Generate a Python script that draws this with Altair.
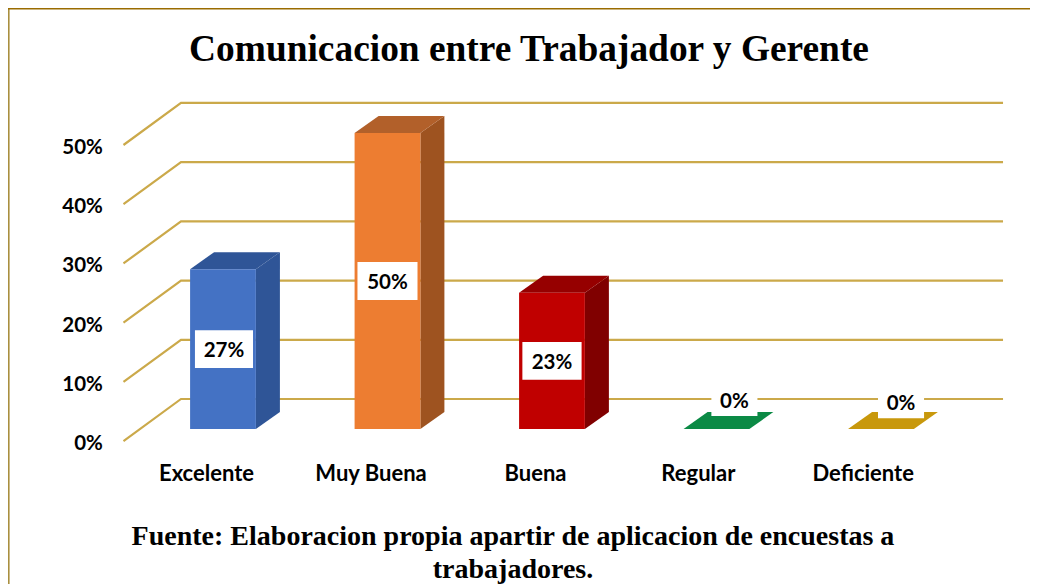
import altair as alt
import pandas as pd

# ---- chart values
categories = ["Excelente", "Muy Buena", "Buena", "Regular", "Deficiente"]
values = [27, 50, 23, 0, 0]
value_labels = ["27%", "50%", "23%", "0%", "0%"]
front_colors = ["#4472C4", "#ED7D31", "#C00000", "#0B8A45", "#C8980C"]
side_colors = ["#2F5597", "#9E5320", "#800000", "#0B8A45", "#C8980C"]
top_colors = ["#2F5597", "#B2602A", "#960000", "#0B8A45", "#C8980C"]
y_ticks = [0, 10, 20, 30, 40, 50]
y_tick_labels = ["0%", "10%", "20%", "30%", "40%", "50%"]
title_text = "Comunicacion entre Trabajador y Gerente"
footer_lines = ["Fuente: Elaboracion propia apartir de aplicacion de encuestas a", "trabajadores."]

# ---- 3D geometry in data units
W, H = 1022, 576
X_DOMAIN = [-1.307, 4.906]
Y_DOMAIN = [-26.18, 71.11]
half = 0.2
depth_x = 0.146
depth_y = 2.87
wall_x0, wall_x1 = -0.2553, 4.742
front_x = -0.605
wall_y = 5.07
front_y = -2.03
label_y = [13.5, 25, 11.5, 4.9, 4.5]
label_dx = [0.006, 0, 0, 0.109, 0.122]
box_w = [0.353, 0.365, 0.36, 0.28, 0.28]
box_h = [6.4, 6.4, 6.4, 5.4, 5.4]
cat_label_x = [-0.1, -0.1, -0.1, -0.11, -0.108]

xs = alt.Scale(domain=X_DOMAIN, range=[0, W], nice=False, zero=False)
ys = alt.Scale(domain=Y_DOMAIN, range=[H, 0], nice=False, zero=False)
X = lambda f: alt.X(f, type="quantitative", scale=xs, axis=None)
Y = lambda f: alt.Y(f, type="quantitative", scale=ys, axis=None)
col = lambda f: alt.Color(f, type="nominal", scale=None, legend=None)

grid_rows = []
for t in y_ticks:
    grid_rows += [
        {"tick": t, "x": front_x, "y": t + front_y},
        {"tick": t, "x": wall_x0, "y": t + wall_y},
        {"tick": t, "x": wall_x1, "y": t + wall_y},
    ]
grid = alt.Chart(pd.DataFrame(grid_rows)).mark_line(
    color="#CBA94A", strokeWidth=2.2, clip=False
).encode(x=X("x"), y=Y("y"), detail="tick:N", order="x:Q")

side_rows, top_rows, front_rows, box_rows = [], [], [], []
for i, (c, v) in enumerate(zip(categories, values)):
    L, R = i - half, i + half
    side_rows += [
        {"cat": c, "x": R, "lo": 0, "hi": v, "color": side_colors[i]},
        {"cat": c, "x": R + depth_x, "lo": depth_y, "hi": v + depth_y, "color": side_colors[i]},
    ]
    top_rows += [
        {"cat": c, "x": L, "lo": v, "hi": v, "color": top_colors[i]},
        {"cat": c, "x": L + depth_x, "lo": v, "hi": v + depth_y, "color": top_colors[i]},
        {"cat": c, "x": R, "lo": v, "hi": v + depth_y, "color": top_colors[i]},
        {"cat": c, "x": R + depth_x, "lo": v + depth_y, "hi": v + depth_y, "color": top_colors[i]},
    ]
    front_rows.append({"cat": c, "x": L, "x2": R, "lo": 0, "hi": v, "color": front_colors[i]})
    cx = i + label_dx[i]
    box_rows.append({
        "label": value_labels[i], "cx": cx, "cy": label_y[i],
        "x": cx - box_w[i] / 2, "x2": cx + box_w[i] / 2,
        "lo": label_y[i] - box_h[i] / 2, "hi": label_y[i] + box_h[i] / 2,
    })

side = alt.Chart(pd.DataFrame(side_rows)).mark_area(line=False).encode(
    x=X("x"), y=Y("lo"), y2="hi:Q", color=col("color"), detail="cat:N")
top = alt.Chart(pd.DataFrame(top_rows)).mark_area(line=False).encode(
    x=X("x"), y=Y("lo"), y2="hi:Q", color=col("color"), detail="cat:N")
front_df = pd.DataFrame([r for r in front_rows if r["hi"] > 0])
front = alt.Chart(front_df).mark_rect().encode(
    x=X("x"), x2="x2:Q", y=Y("lo"), y2="hi:Q", color=col("color"))

box_df = pd.DataFrame(box_rows)
boxes = alt.Chart(box_df).mark_rect(color="white").encode(
    x=X("x"), x2="x2:Q", y=Y("lo"), y2="hi:Q")
box_text = alt.Chart(box_df).mark_text(
    font="Lato", fontWeight="bold", fontSize=20.5, color="black", baseline="middle", align="center", dy=2
).encode(x=X("cx"), y=Y("cy"), text="label:N")

cat_df = pd.DataFrame({"cat": categories, "x": [i + d for i, d in enumerate(cat_label_x)], "y": [-7.43] * 5})
cat_text = alt.Chart(cat_df).mark_text(
    font="Lato", fontWeight="bold", fontSize=22, color="black", baseline="middle", align="center", dy=1
).encode(x=X("x"), y=Y("y"), text="cat:N")

ytick_df = pd.DataFrame({"label": y_tick_labels, "x": [-0.73] * 6, "y": [t - 2.2 for t in y_ticks]})
ytick_text = alt.Chart(ytick_df).mark_text(
    font="Lato", fontWeight="bold", fontSize=20.5, color="black", baseline="middle", align="right", dy=2
).encode(x=X("x"), y=Y("y"), text="label:N")

footer_df = pd.DataFrame({"line": footer_lines, "x": [1.763, 1.763], "y": [-18.07, -23.6]})
footer = alt.Chart(footer_df).mark_text(
    font="Liberation Serif", fontWeight="bold", fontSize=28, color="black", baseline="middle", align="center", dy=1
).encode(x=X("x"), y=Y("y"), text="line:N")

frame_left = alt.Chart(pd.DataFrame({"a": [0]})).mark_rule(color="#A98F3F", strokeWidth=1.6).encode(
    x=alt.value(0.8), y=alt.value(0), y2=alt.value(H))
frame_top = alt.Chart(pd.DataFrame({"a": [0]})).mark_rule(color="#9A6C00", strokeWidth=1.6).encode(
    x=alt.value(0), x2=alt.value(W), y=alt.value(0.8))

chart = alt.layer(
    frame_left, frame_top, grid, side, top, front, boxes, box_text, cat_text, ytick_text, footer
).properties(
    width=W, height=H, padding=0, autosize=alt.AutoSizeParams(type="none"),
    background="white",
    title=alt.TitleParams(
        title_text, font="Liberation Serif", fontWeight="bold", fontSize=37.4, color="black",
        anchor="middle", frame="group", offset=0, dy=61, dx=10,
    ),
).configure_view(stroke=None)

chart.save("out.html", embed_options={"renderer": "svg", "actions": False})
